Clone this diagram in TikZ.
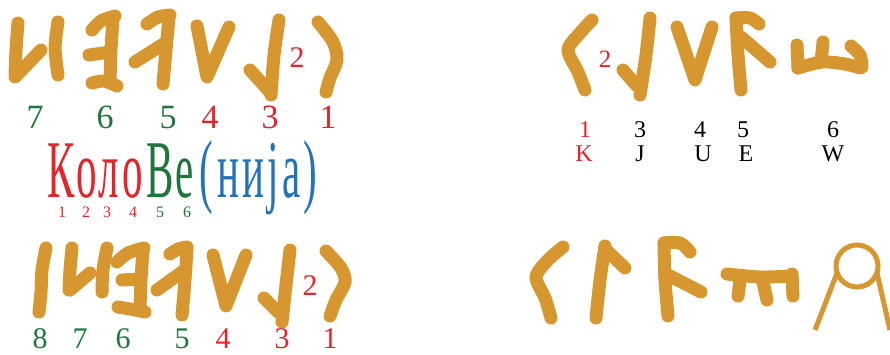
\documentclass[tikz,border=0pt]{standalone}
\usepackage{fontspec}
\setmainfont{Liberation Serif}
\definecolor{ochre}{RGB}{214,150,48}
\definecolor{cred}{RGB}{228,36,42}
\definecolor{cgreen}{RGB}{30,118,60}
\definecolor{cblue}{RGB}{36,114,186}
\begin{document}
\begin{tikzpicture}[x=1pt,y=-1pt,
  glyph/.style={draw=ochre,line width=13pt,line cap=round,line join=round},
  thinglyph/.style={draw=ochre,line width=5pt},
  lbl/.style={inner sep=0pt,anchor=base},
  bigA/.style={lbl,font=\fontsize{34}{34}\selectfont},
  bigB/.style={lbl,font=\fontsize{30}{30}\selectfont},
  twoA/.style={lbl,text=cred,font=\fontsize{30}{30}\selectfont},
  twoB/.style={lbl,text=cred,font=\fontsize{25}{25}\selectfont},
  small/.style={lbl,font=\fontsize{24}{24}\selectfont},
  sub/.style={lbl,font=\fontsize{16}{16}\selectfont},
  word/.style={lbl,font=\fontsize{82}{82}\selectfont}]
\useasboundingbox (0,0) rectangle (890,354);

% ---------- top-left row ----------
\draw[glyph] plot[smooth] coordinates {(18,23) (16,50) (15,77)};
\draw[glyph] (16,76) -- (41,50);
\draw[glyph] plot[smooth] coordinates {(58,22) (55,48) (58,75)};
\draw[glyph] plot[smooth] coordinates {(92,30) (101,21) (115,16)};
\draw[glyph] plot[smooth] coordinates {(113,18) (111,50) (110,82)};
\draw[glyph] (89,55) -- (110,52);
\draw[glyph] plot[smooth] coordinates {(92,83) (104,81) (117,86)};
\draw[glyph] plot[smooth] coordinates {(147,24) (158,17) (170,15)};
\draw[glyph] plot[smooth] coordinates {(169,17) (166,50) (163,84)};
\draw[glyph] (135,62) -- (165,43);
\draw[glyph] (197,26) -- (207,77) -- (229,27);
\draw[glyph] plot[smooth] coordinates {(279,20) (274,55) (271,95)};
\draw[glyph] (250,70) -- (268,90);
\draw[glyph] plot[smooth] coordinates {(318,22) (333,42) (337,60) (330,78) (326,92)};
\node[twoA] (t2) at (297,67) {2};
\node[bigA,text=cgreen] (t7) at (35,128) {7};
\node[bigA,text=cgreen] (t6) at (105,128) {6};
\node[bigA,text=cgreen] (t5) at (168,128) {5};
\node[bigA,text=cred] (t4) at (210,128) {4};
\node[bigA,text=cred] (t3) at (270,128) {3};
\node[bigA,text=cred] (t1) at (328,128) {1};

% ---------- word ----------
\node[word,text=cred] (w1) at (61,197) {\scalebox{0.5}[1]{К}};
\node[word,text=cred] (w2) at (87,197) {\scalebox{0.5}[1]{о}};
\node[word,text=cred] (w3) at (109,197) {\scalebox{0.5}[1]{л}};
\node[word,text=cred] (w4) at (133,197) {\scalebox{0.5}[1]{о}};
\node[word,text=cgreen] (w5) at (160,197) {\scalebox{0.5}[1]{В}};
\node[word,text=cgreen] (w6) at (185,197) {\scalebox{0.5}[1]{е}};
\node[word,text=cblue] (w7) at (206,197) {\scalebox{0.5}[1]{(}};
\node[word,text=cblue] (w8) at (228,197) {\scalebox{0.5}[1]{н}};
\node[word,text=cblue] (w9) at (253,197) {\scalebox{0.5}[1]{и}};
\node[word,text=cblue] (w10) at (273,197) {\scalebox{0.5}[1]{ј}};
\node[word,text=cblue] (w11) at (292,197) {\scalebox{0.5}[1]{а}};
\node[word,text=cblue] (w12) at (310,197) {\scalebox{0.5}[1]{)}};
\node[sub,text=cred] (s1) at (62,217) {1};
\node[sub,text=cred] (s2) at (86,217) {2};
\node[sub,text=cred] (s3) at (107,217) {3};
\node[sub,text=cred] (s4) at (133,217) {4};
\node[sub,text=cgreen] (s5) at (160,217) {5};
\node[sub,text=cgreen] (s6) at (187,217) {6};

% ---------- lower-left row ----------
\draw[glyph] plot[smooth] coordinates {(46,248) (42,270) (41,292) (39,312)};
\draw[glyph] plot[smooth] coordinates {(72,248) (70,270) (69,290)};
\draw[glyph] (70,290) -- (90,273);
\draw[glyph] plot[smooth] coordinates {(107,248) (103,270) (102,292)};
\draw[glyph] plot[smooth] coordinates {(117,262) (128,253) (144,248)};
\draw[glyph] plot[smooth] coordinates {(143,250) (141,280) (140,310)};
\draw[glyph] (122,280) -- (140,279);
\draw[glyph] plot[smooth] coordinates {(118,307) (130,309) (145,312)};
\draw[glyph] plot[smooth] coordinates {(170,254) (178,249) (187,247)};
\draw[glyph] plot[smooth] coordinates {(187,249) (185,280) (182,315)};
\draw[glyph] (157,290) -- (182,272);
\draw[glyph] (213,255) -- (226,306) -- (246,255);
\draw[glyph] plot[smooth] coordinates {(290,250) (286,285) (282,322)};
\draw[glyph] (264,298) -- (278,312);
\draw[glyph] plot[smooth] coordinates {(326,251) (341,268) (345,282) (336,300) (330,316)};
\node[twoA] (b2) at (310,295) {2};
\node[bigB,text=cgreen] (b8) at (40,348) {8};
\node[bigB,text=cgreen] (b7) at (80,348) {7};
\node[bigB,text=cgreen] (b6) at (123,348) {6};
\node[bigB,text=cgreen] (b5) at (182,348) {5};
\node[bigB,text=cred] (b4) at (223,348) {4};
\node[bigB,text=cred] (b3) at (282,348) {3};
\node[bigB,text=cred] (b1) at (330,348) {1};

% ---------- top-right row ----------
\draw[glyph] plot[smooth] coordinates {(592,20) (580,33) (568,50) (578,72) (585,90)};
\draw[glyph] plot[smooth] coordinates {(650,18) (646,55) (640,95)};
\draw[glyph] (623,70) -- (637,86);
\draw[glyph] (677,27) -- (695,80) -- (712,27);
\draw[glyph] plot[smooth] coordinates {(736,18) (738,55) (741,90)};
\draw[glyph] plot[smooth] coordinates {(736,18) (750,18) (759,24)};
\draw[glyph] (741,37) -- (770,62);
\draw[glyph] (797,45) -- (798,68);
\draw[glyph] plot[smooth] coordinates {(798,68) (822,62) (845,64) (860,68)};
\draw[glyph] (823,42) -- (821,62);
\draw[glyph] plot[smooth] coordinates {(851,46) (860,55) (862,67)};
\node[twoB] (r2) at (605,67) {2};
\node[small,text=cred] (r1) at (585,137) {1};
\node[small] (r3) at (640,137) {3};
\node[small] (r4) at (700,137) {4};
\node[small] (r5) at (743,137) {5};
\node[small] (r6) at (833,137) {6};
\node[small,text=cred] (rk) at (584,161) {K};
\node[small] (rj) at (640,161) {J};
\node[small] (ru) at (703,161) {U};
\node[small] (re) at (746,161) {E};
\node[small] (rw) at (833,161) {W};

% ---------- bottom-right row ----------
\draw[glyph] plot[smooth] coordinates {(563,247) (548,260) (536,277) (545,298) (551,318)};
\draw[glyph] plot[smooth] coordinates {(605,246) (600,280) (596,318)};
\draw[glyph] (605,249) -- (625,268);
\draw[glyph] plot[smooth] coordinates {(664,243) (665,280) (668,316)};
\draw[glyph] plot[smooth] coordinates {(664,243) (680,243) (690,252)};
\draw[glyph] (668,275) -- (701,292);
\draw[glyph] plot[smooth] coordinates {(727,274) (760,277) (792,276)};
\draw[glyph] (740,280) -- (738,296);
\draw[glyph] (763,282) -- (767,300);
\draw[glyph] (792,274) -- (793,296);
\draw[thinglyph] (857,266) circle[radius=21];
\draw[thinglyph] (815,330) -- (837,273);
\draw[thinglyph] (890,330) -- (877,273);
\end{tikzpicture}
\end{document}
